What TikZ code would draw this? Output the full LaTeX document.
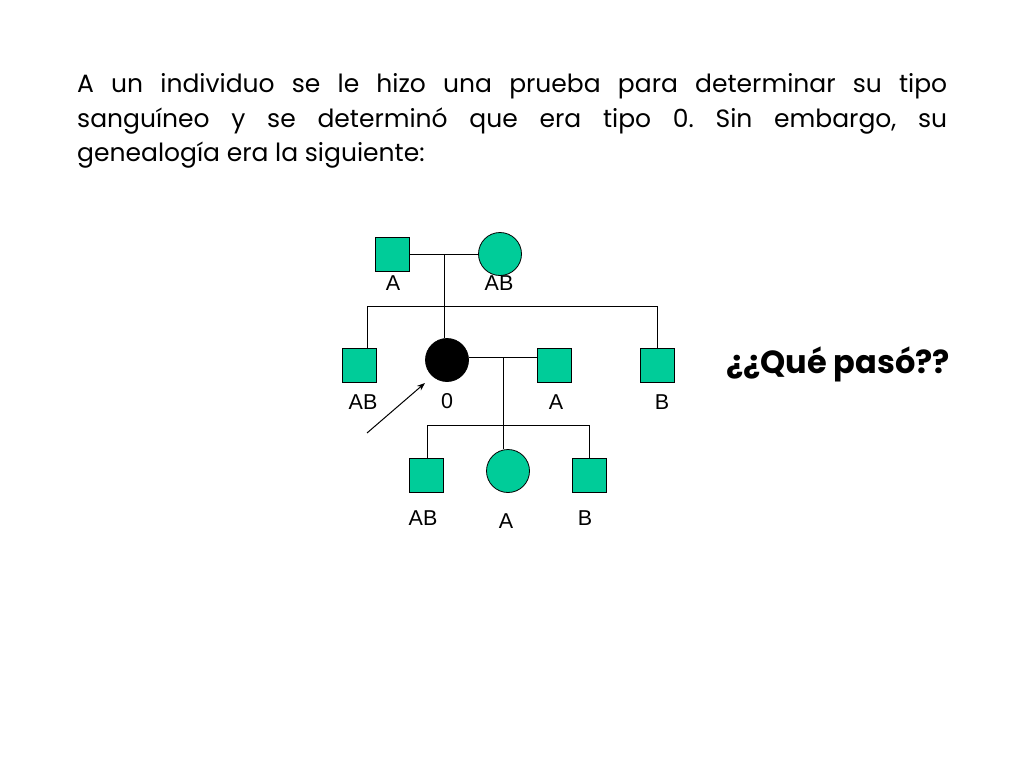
\documentclass[tikz,border=0pt]{standalone}
\usepackage{fontspec}
\setmainfont{Poppins}
\newfontfamily\labfont{Liberation Sans}
\usetikzlibrary{arrows.meta}
\definecolor{pgreen}{RGB}{0,204,153}
\frenchspacing
\tikzset{
  male/.style={draw=black, fill=pgreen, line width=0.8pt, minimum size=34pt, inner sep=0pt, rectangle},
  female/.style={draw=black, fill=pgreen, line width=0.8pt, minimum size=43pt, inner sep=0pt, circle},
  proband/.style={draw=black, fill=black, line width=0.8pt, minimum size=43pt, inner sep=0pt, circle},
  lab/.style={font=\labfont\fontsize{21.5}{24}\selectfont, inner sep=0pt, anchor=base},
  link/.style={line width=0.8pt, draw=black}
}
\begin{document}
\begin{tikzpicture}[x=1pt,y=-1pt]
\useasboundingbox (0,0) rectangle (1024,768);
\fill[white] (0,0) rectangle (1024,768);

% paragraph
\node[inner sep=0pt, anchor=base west] (para) at (77,92) {\begin{minipage}[t]{870pt}\frenchspacing\fontsize{25}{35}\selectfont
A un individuo se le hizo una prueba para determinar su tipo\linebreak
sanguíneo y se determinó que era tipo 0. Sin embargo, su\linebreak
genealogía era la siguiente:\end{minipage}};

% generation I
\node[male] (gf) at (392,254) {};
\node[female] (gm) at (500,254) {};
\node[lab] (lgf) at (393,290) {A};
\node[lab] (lgm) at (499,290) {AB};

% generation II
\node[male] (s1) at (359,365) {};
\node[proband] (pro) at (447,360) {};
\node[male] (sp) at (554,365) {};
\node[male] (s3) at (657,365) {};
\node[lab] (ls1) at (363,409) {AB};
\node[lab] (lpro) at (447,408) {0};
\node[lab] (lsp) at (556,409) {A};
\node[lab] (ls3) at (662,409) {B};

% generation III
\node[male] (c1) at (426,475) {};
\node[female] (c2) at (508,471) {};
\node[male] (c3) at (589,475) {};
\node[lab] (lc1) at (423,525) {AB};
\node[lab] (lc2) at (506,528) {A};
\node[lab] (lc3) at (585,525) {B};

% connectors
\coordinate (m1) at (444,254);
\coordinate (sl) at (367,306);
\coordinate (sr) at (657,306);
\coordinate (m2) at (503,357);
\coordinate (cl) at (427,425);
\coordinate (cr) at (589,425);
\draw[link] (gf.east) -- (gm.west);
\draw[link] (m1) -- (m1 |- pro.north);
\draw[link] (sl |- s1.north) -- (sl) -- (sr) -- (s3.north);
\draw[link] (pro.east |- m2) -- (sp.west |- m2);
\draw[link] (m2) -- (m2 |- c2.north);
\draw[link] (cl |- c1.north) -- (cl) -- (cr) -- (cr |- c3.north);

% proband arrow
\coordinate (ar0) at (367,433);
\coordinate (ar1) at (425,383);
\draw[line width=1pt, -{Stealth[length=8pt,width=6pt]}] (ar0) -- (ar1);

% question
\node[inner sep=0pt, anchor=base, font=\bfseries\fontsize{32}{38}\selectfont] (q) at (838,373) {¿¿Qué pasó??};
\end{tikzpicture}
\end{document}
